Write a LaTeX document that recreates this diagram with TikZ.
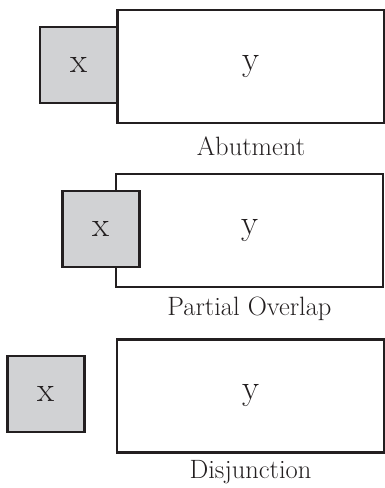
\documentclass[tikz,border=0pt]{standalone}
\usepackage{fontspec}
\usepackage{tikz}
\usetikzlibrary{positioning}
\definecolor{boxgray}{RGB}{209,210,212}
\definecolor{linegray}{RGB}{35,31,32}

\begin{document}
\begin{tikzpicture}[
    x=1pt, y=-1pt,
    node distance=9pt,
    bigbox/.style={rectangle, draw=linegray, line width=2.2pt, fill=white, minimum width=267pt, minimum height=113pt, inner sep=0pt, text=linegray, font=\fontsize{35}{40}\selectfont},
    smallbox/.style={rectangle, draw=linegray, line width=2.2pt, fill=boxgray, minimum width=77pt, minimum height=76pt, inner sep=0pt, text=linegray, font=\fontsize{35}{40}\selectfont},
    caption/.style={inner sep=0pt, text=linegray, font=\fontsize{26.5}{30}\selectfont}
]
    \useasboundingbox (0,0) rectangle (384,488);
    % abutment
    \node[bigbox] (y1) at (251,66.5) {y};
    \node[smallbox] (x1) at (78.5,65) {x};
    \node[caption, below=12pt of y1] (c1) {Abutment};
    % partial overlap
    \node[bigbox] (y2) at (249.5,230.5) {y};
    \node[smallbox] (x2) at (101,229) {x};
    \node[caption, below=of y2] (c2) {Partial Overlap};
    % disjunction
    \node[bigbox] (y3) at (250.5,396) {y};
    \node[smallbox] (x3) at (46,394) {x};
    \node[caption, below=7pt of y3] (c3) {Disjunction};
\end{tikzpicture}
\end{document}
